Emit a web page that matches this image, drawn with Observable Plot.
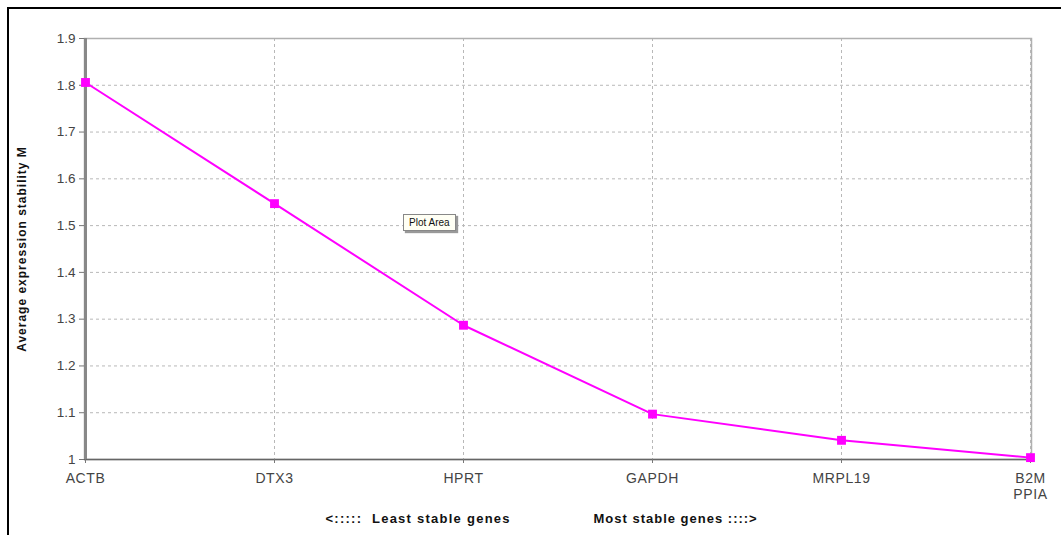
<!DOCTYPE html>
<html>
<head>
<meta charset="utf-8">
<script src="https://cdn.jsdelivr.net/npm/d3@7"></script>
<script src="https://cdn.jsdelivr.net/npm/@observablehq/plot@0.6"></script>
<style>
  html, body { margin: 0; padding: 0; background: #fff; }
  #wrap { position: relative; width: 1061px; height: 535px; overflow: hidden; font-family: "Liberation Sans", Arial, sans-serif; }
  #border { position: absolute; left: 7px; top: 7px; right: -10px; bottom: -10px; border-left: 2px solid #000; border-top: 2px solid #000; pointer-events: none; }
  #tip { position: absolute; left: 403px; top: 214px; padding: 2px 5px; font-size: 10px; color: #111; background: #fffff4; border: 1px solid #888; box-shadow: 2px 2px 1px #999; line-height: 11px; }
</style>
</head>
<body>
<div id="wrap">
  <div id="chart"></div>
  <div id="border"></div>
  <div id="tip">Plot Area</div>
</div>
<script>
const genes = ["ACTB", "DTX3", "HPRT", "GAPDH", "MRPL19", "B2M\nPPIA"];
const stability = [1.806, 1.547, 1.287, 1.097, 1.041, 1.004];
const yTicks = [1, 1.1, 1.2, 1.3, 1.4, 1.5, 1.6, 1.7, 1.8, 1.9];
const yLabel = "Average expression stability M";
const footLeft = "<:::::\u00a0\u00a0Least stable genes";
const footRight = "Most stable genes ::::>";

const data = genes.map((g, i) => ({gene: g, m: stability[i]}));

const chart = Plot.plot({
  width: 1061,
  height: 535,
  marginLeft: 84,
  marginRight: 30,
  marginTop: 38,
  marginBottom: 76,
  style: {fontFamily: "Liberation Sans, Arial, sans-serif", fontSize: "14px", color: "#333", background: "transparent"},
  x: {type: "point", domain: genes, padding: 0},
  y: {domain: [1, 1.9]},
  marks: [
    Plot.gridY(yTicks, {stroke: "#b8b8b8", strokeOpacity: 1, strokeDasharray: "3,3"}),
    Plot.gridX(genes, {stroke: "#b8b8b8", strokeOpacity: 1, strokeDasharray: "3,3"}),
    Plot.frame({stroke: "#b0b0b0", strokeWidth: 1.5}),
    Plot.ruleY([1], {stroke: "#666", strokeWidth: 1.5}),
    Plot.ruleX([genes[0]], {stroke: "#888", strokeWidth: 3}),
    Plot.axisY(yTicks, {tickSize: 5, tickPadding: 4, stroke: "#777", fill: "#444", label: null, fontSize: 13.5,
      tickFormat: d => String(+d.toFixed(1))}),
    Plot.axisX(genes, {tickSize: 4, tickPadding: 8, stroke: "#777", fill: "#444", label: null, fontSize: 14,
      lineHeight: 1.15}),
    Plot.line(data, {x: "gene", y: "m", stroke: "#ff00ff", strokeWidth: 2}),
    Plot.dot(data, {x: "gene", y: "m", symbol: "square", r: 5, fill: "#ff00ff", stroke: "none"}),
    Plot.text([yLabel], {frameAnchor: "left", textAnchor: "middle", dx: -62, rotate: -90, fontWeight: "bold", fill: "#111", fontSize: 12}),
    Plot.text([footLeft], {frameAnchor: "bottom-left", dx: 241, dy: 59, textAnchor: "start", lineAnchor: "middle", fontWeight: "bold", fill: "#111", fontSize: 13}),
    Plot.text([footRight], {frameAnchor: "bottom-left", dx: 509, dy: 59, textAnchor: "start", lineAnchor: "middle", fontWeight: "bold", fill: "#111", fontSize: 13})
  ]
});
chart.querySelectorAll("text").forEach(t => {
  const s = t.textContent;
  if (s === footLeft) t.setAttribute("letter-spacing", "1.25");
  if (s === footRight) t.setAttribute("letter-spacing", "1");
  if (s === yLabel) t.setAttribute("letter-spacing", "1");
});
chart.querySelectorAll("[aria-label='x-axis tick label'] text").forEach(t => t.setAttribute("letter-spacing", "0.6"));
document.getElementById("chart").appendChild(chart);
</script>
</body>
</html>
